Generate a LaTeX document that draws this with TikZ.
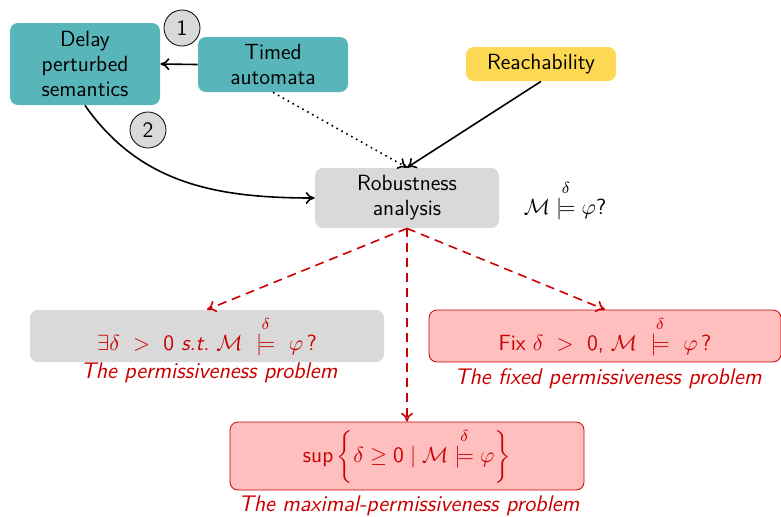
\documentclass[tikz,border=0pt]{standalone}
\usepackage{amsmath,amssymb}
\usetikzlibrary{arrows.meta}
\renewcommand{\familydefault}{\sfdefault}
\definecolor{teal}{HTML}{58B6BA}
\definecolor{sunny}{HTML}{FDD853}
\definecolor{lgray}{HTML}{D9D9D9}
\definecolor{pinkfill}{HTML}{FFBFBF}
\definecolor{darkred}{HTML}{CC0000}
\newcommand{\dmodels}{\mathrel{\stackrel{\delta}{\models}}}
\begin{document}
\begin{tikzpicture}[x=0.5pt,y=-0.5pt,
  every node/.style={font=\fontsize{11}{12.5}\selectfont},
  box/.style={rounded corners=4pt, align=center, inner sep=0pt},
  tealbox/.style={box, fill=teal},
  numcirc/.style={circle, draw=black, fill=lgray, minimum size=18pt, inner sep=0pt},
  redbox/.style={box, fill=pinkfill, draw=darkred, text=darkred},
  caption/.style={text=darkred, font=\fontsize{11.3}{12.5}\selectfont\itshape},
  tip/.style={-{To[length=4.5pt,width=6pt]}},
  solidarrow/.style={tip, thick},
  redarrow/.style={tip, thick, dash pattern=on 4.5pt off 3pt, darkred}
]
\useasboundingbox (0,0) rectangle (781,516);

% top row: inputs of the analysis
\node[tealbox, minimum width=75pt, minimum height=41pt] (delay) at (85,64) {Delay\\perturbed\\semantics};
\node[tealbox, minimum width=75pt, minimum height=27.5pt] (timed) at (273,64.5) {Timed\\automata};
\node[box, fill=sunny, minimum width=75pt, minimum height=17pt] (reach) at (541,64) {Reachability};
\node[numcirc] (one) at (182,28) {1};
\node[numcirc] (two) at (148,130) {2};

% central analysis box
\node[box, fill=lgray, minimum width=92pt, minimum height=30pt] (robust) at (407,198) {Robustness\\analysis};
\node (query) at (565,200) {$\mathcal{M}\dmodels\varphi$?};

% the three problems
\node[box, fill=lgray, text=darkred, minimum width=177pt, minimum height=26pt] (perm) at (207,336)
  {$\exists\delta\ >\ \textsf{0}\ \textit{s.t.}\ \mathcal{M}\ \dmodels\ \varphi\,$?};
\node[caption] (permcap) at (209,373) {The permissiveness problem};

\node[redbox, minimum width=176pt, minimum height=26pt] (fixed) at (605,336)
  {Fix $\delta\ >\ \textsf{0}$, $\mathcal{M}\ \dmodels\ \varphi\,$?};
\node[caption] (fixcap) at (608,379) {The fixed permissiveness problem};

\node[redbox, minimum width=177pt, minimum height=34pt] (maxb) at (407,456)
  {$\textsf{sup}\left\{\delta\geq\textsf{0}\mid\mathcal{M}\dmodels\varphi\right\}$};
\node[caption] (maxcap) at (409,506) {The maximal-permissiveness problem};

% connectors
\draw[solidarrow] (timed.west) -- (delay.east);
\draw[solidarrow] (delay.south) to[out=-55,in=180] (robust.west);
\draw[thick, dotted, tip] (timed.south) -- (robust.north);
\draw[solidarrow] (reach.south) -- (robust.north);
\draw[redarrow] (robust.south) -- (perm.north);
\draw[redarrow] (robust.south) -- (fixed.north);
\draw[redarrow] (robust.south) -- (maxb.north);
\end{tikzpicture}
\end{document}
